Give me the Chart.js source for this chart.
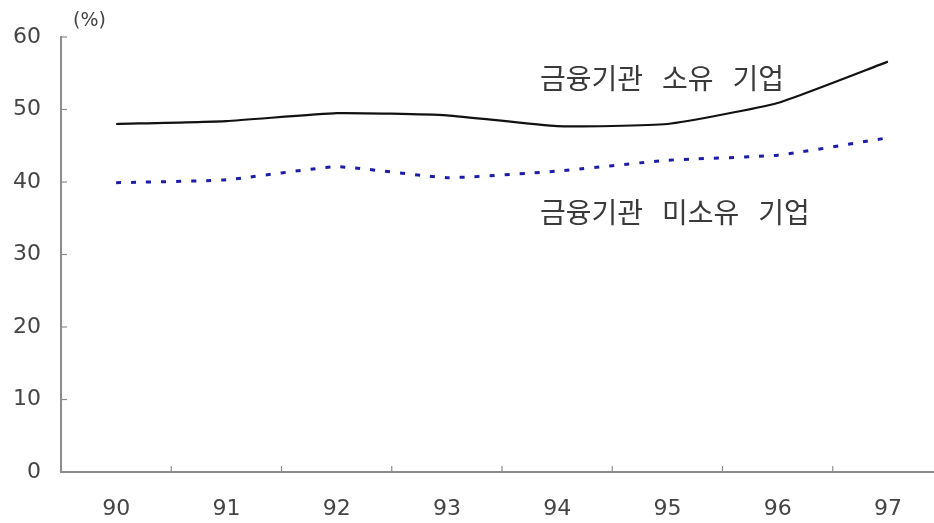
<!DOCTYPE html>
<html>
<head>
<meta charset="utf-8">
<script src="https://cdn.jsdelivr.net/npm/chart.js@4/dist/chart.umd.min.js"></script>
<style>
  html, body { margin: 0; padding: 0; background: #fff; overflow: hidden; }
  #wrap { width: 948px; height: 523px; }
</style>
</head>
<body>
<div id="wrap"><canvas id="chart"></canvas></div>
<script>
// years (x categories)
var years = ["90", "91", "92", "93", "94", "95", "96", "97"];
// 금융기관 소유 기업
var owned = [48.0, 48.4, 49.5, 49.2, 47.7, 48.0, 50.9, 56.6];
// 금융기관 미소유 기업
var notOwned = [39.9, 40.3, 42.1, 40.6, 41.5, 43.0, 43.7, 46.1];
var yTicks = [0, 10, 20, 30, 40, 50, 60];

var axisColor = "#8c8c8c";
var tickFont = "'DejaVu Sans', sans-serif";

// draws a label word by word with a fixed gap between words
function drawWords(ctx, text, x, y, gap) {
    var words = text.split(" ");
    for (var i = 0; i < words.length; ++i) {
        ctx.fillText(words[i], x, y);
        x += ctx.measureText(words[i]).width + gap;
    }
}

// inward tick marks + text labels
var decoPlugin = {
    id: "deco",
    afterDraw: function (chart) {
        var ctx = chart.ctx;
        var x = chart.scales.x;
        var y = chart.scales.y;
        var area = chart.chartArea;
        ctx.save();
        ctx.strokeStyle = axisColor;
        ctx.lineWidth = 1.2;
        // y ticks pointing right
        for (var i = 0; i < yTicks.length; ++i) {
            var py = y.getPixelForValue(yTicks[i]);
            ctx.beginPath();
            ctx.moveTo(area.left, py);
            ctx.lineTo(area.left + 6, py);
            ctx.stroke();
        }
        // x ticks at category boundaries pointing up
        for (var i = 1; i < years.length; ++i) {
            var px = (x.getPixelForValue(i - 1) + x.getPixelForValue(i)) / 2;
            ctx.beginPath();
            ctx.moveTo(px, area.bottom);
            ctx.lineTo(px, area.bottom - 6);
            ctx.stroke();
        }
        // unit
        ctx.fillStyle = "#444";
        ctx.font = "19px " + tickFont;
        ctx.textAlign = "left";
        ctx.textBaseline = "middle";
        ctx.fillText("(%)", 73, 21);
        // series labels
        ctx.fillStyle = "#3a3a3a";
        ctx.font = "28px 'Noto Sans CJK KR', sans-serif";
        drawWords(ctx, chart.data.datasets[0].label, 540, 78, 19);
        drawWords(ctx, chart.data.datasets[1].label, 540, 212, 19);
        ctx.restore();
    }
};

new Chart(document.getElementById("chart"), {
    type: "line",
    data: {
        labels: years,
        datasets: [
            {
                label: "금융기관 소유 기업",
                data: owned,
                borderColor: "#111",
                borderWidth: 2.2,
                pointRadius: 0,
                tension: 0.15,
                fill: false
            },
            {
                label: "금융기관 미소유 기업",
                data: notOwned,
                borderColor: "#1c1ca8",
                borderWidth: 3,
                borderDash: [5, 10],
                pointRadius: 0,
                tension: 0.15,
                fill: false
            }
        ]
    },
    options: {
        responsive: true,
        maintainAspectRatio: false,
        animation: false,
        layout: { padding: { top: 37, right: 5, left: 0, bottom: 0 } },
        plugins: {
            legend: { display: false },
            tooltip: { enabled: false }
        },
        scales: {
            x: {
                offset: true,
                grid: { display: false, drawTicks: false },
                border: { color: axisColor, width: 2 },
                ticks: {
                    color: "#444",
                    font: { family: tickFont, size: 22 },
                    padding: 24,
                    maxRotation: 0
                },
                afterFit: function (scale) { scale.height = 51; }
            },
            y: {
                min: 0,
                max: 60,
                grid: { display: false, drawTicks: false },
                border: { color: axisColor, width: 2 },
                ticks: {
                    stepSize: 10,
                    color: "#444",
                    font: { family: tickFont, size: 22 },
                    padding: 20
                },
                afterFit: function (scale) { scale.width = 61; }
            }
        }
    },
    plugins: [decoPlugin]
});
</script>
</body>
</html>
